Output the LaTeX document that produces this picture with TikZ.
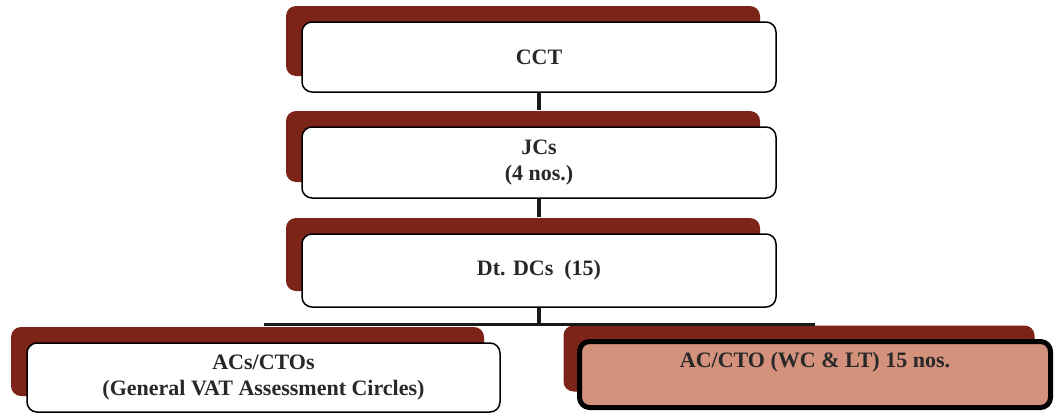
\documentclass[tikz,border=0pt]{standalone}
\usepackage{fontspec}
\setmainfont{Liberation Serif}
\usetikzlibrary{shadows}
\definecolor{maroon}{RGB}{124,36,23}
\definecolor{pinkfill}{RGB}{212,146,124}
\definecolor{txt}{RGB}{40,40,40}
\tikzset{
  orgbox/.style={draw=black, line width=1.5pt, fill=white, rounded corners=10pt,
    inner sep=0pt, align=center, text=txt,
    font=\fontsize{22}{26}\selectfont\bfseries,
    general shadow={fill=maroon, shadow xshift=-16pt, shadow yshift=16pt}},
  hibox/.style={orgbox, fill=pinkfill, line width=5pt},
  conn/.style={draw=black!90, line width=3.5pt}
}
\begin{document}
\begin{tikzpicture}[x=1pt,y=-1pt]
\useasboundingbox (0,0) rectangle (1060,415);
\node[orgbox, minimum width=474pt, minimum height=70pt] (cct) at (539,57) {CCT};
\node[orgbox, minimum width=474pt, minimum height=71pt] (jc) at (539,162.5) {JCs\\(4 nos.)};
\node[orgbox, minimum width=474pt, minimum height=73pt] (dt) at (539,270.5) {Dt. DCs\ \ (15)};
\node[orgbox, minimum width=473pt, minimum height=69pt] (left) at (263.5,377.5) {ACs/CTOs\\(General VAT Assessment Circles)};
\node[hibox, minimum width=471pt, minimum height=66pt] (right) at (815,374.5) {};
\node[text=txt, font=\fontsize{22}{26}\selectfont\bfseries, inner sep=0pt] (rtext) at (815,362) {AC/CTO (WC \& LT) 15 nos.};
\coordinate (j) at (539,324);
\draw[conn] (cct.south) -- ([yshift=16pt]jc.north);
\draw[conn] (jc.south) -- ([yshift=16pt]dt.north);
\draw[conn] (dt.south) -- (j);
\draw[conn, line width=3pt] (left.north |- j) -- (right.north |- j);
\end{tikzpicture}
\end{document}
